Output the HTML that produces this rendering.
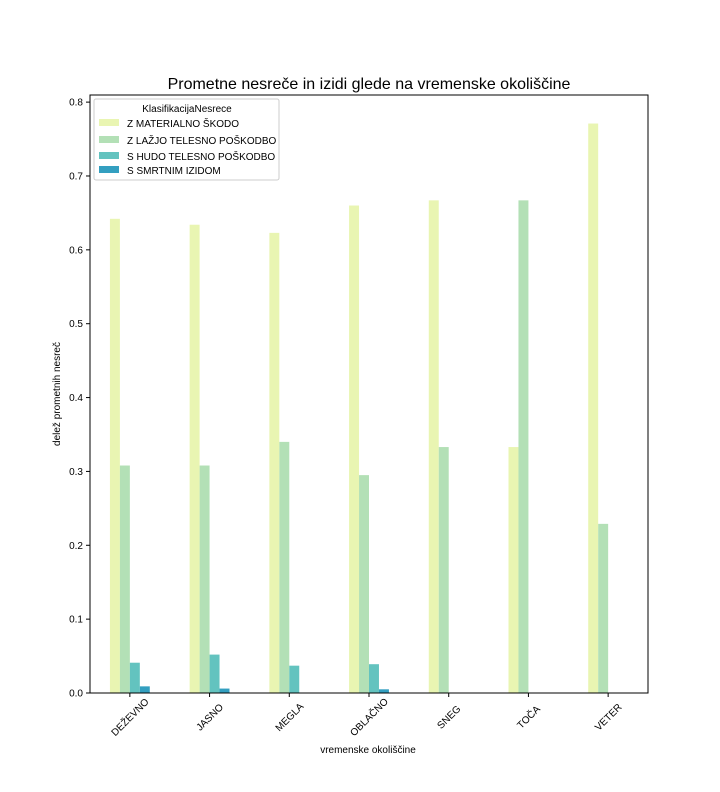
<!DOCTYPE html>
<html><head><meta charset="utf-8"><style>
body{margin:0;background:#fff;}
svg{display:block;font-family:"Liberation Sans","DejaVu Sans",sans-serif;}
</style></head><body>
<svg id="chart" width="720" height="792" xmlns="http://www.w3.org/2000/svg">
<rect width="720" height="792" fill="#fff"/>
<text x="369" y="89" font-size="16" text-anchor="middle">Prometne nesreče in izidi glede na vremenske okoliščine</text>
<g id="bars"></g>
<g id="axes"></g>
<rect x="90" y="95" width="558" height="598" fill="none" stroke="#000" stroke-width="1"/>
<text x="368" y="753" font-size="10" text-anchor="middle">vremenske okoliščine</text>
<text transform="translate(60,394) rotate(-90)" font-size="10" text-anchor="middle">delež prometnih nesreč</text>
<g>
<rect x="94" y="99" width="185" height="81" fill="#fff" stroke="#ccc" rx="2"/>
<text x="187" y="112" font-size="10" text-anchor="middle">KlasifikacijaNesrece</text>
<g><rect x="99" y="119" width="20" height="7" fill="#e9f5b2"/><text x="127" y="127" font-size="10">Z MATERIALNO ŠKODO</text></g>
<g><rect x="99" y="136" width="20" height="7" fill="#b3e0b6"/><text x="127" y="144" font-size="10">Z LAŽJO TELESNO POŠKODBO</text></g>
<g><rect x="99" y="152" width="20" height="7" fill="#63c3bf"/><text x="127" y="160" font-size="10">S HUDO TELESNO POŠKODBO</text></g>
<g><rect x="99" y="166" width="20" height="7" fill="#339fc0"/><text x="127" y="174" font-size="10">S SMRTNIM IZIDOM</text></g>
</g>
</svg>
<script>
const categories=["DEŽEVNO","JASNO","MEGLA","OBLAČNO","SNEG","TOČA","VETER"];
const materialno=[0.642,0.634,0.623,0.660,0.667,0.333,0.771];
const lazja=[0.308,0.308,0.340,0.295,0.333,0.667,0.229];
const huda=[0.041,0.052,0.037,0.039,0,0,0];
const smrt=[0.009,0.006,0,0.005,0,0,0];
const yTicks=[0,0.1,0.2,0.3,0.4,0.5,0.6,0.7,0.8];
const series=[materialno,lazja,huda,smrt];
const colors=["#e9f5b2","#b3e0b6","#63c3bf","#339fc0"];
const names=["materialno","lazja","huda","smrt"];
const X0=90,X1=648,Y0=693,PX=738.6;
const y=v=>Y0-v*PX;
const step=(X1-X0)/categories.length;
const xc=i=>X0+step*(i+0.5);
const bw=step*0.5/4;
const NS="http://www.w3.org/2000/svg";
const bars=document.getElementById('bars'),axes=document.getElementById('axes');
series.forEach((s,k)=>s.forEach((v,i)=>{
 const r=document.createElementNS(NS,'rect');
 r.setAttribute('x',xc(i)-2*bw+k*bw);r.setAttribute('y',y(v));
 r.setAttribute('width',bw);r.setAttribute('height',Math.max(0,Y0-y(v)));
 r.setAttribute('fill',colors[k]);
 
 
 bars.appendChild(r);
}));
yTicks.forEach(t=>{
 const l=document.createElementNS(NS,'line');
 l.setAttribute('x1',X0-4);l.setAttribute('x2',X0);l.setAttribute('y1',y(t));l.setAttribute('y2',y(t));l.setAttribute('stroke','#000');
 
 
 axes.appendChild(l);
 const tx=document.createElementNS(NS,'text');
 tx.setAttribute('x',X0-7);tx.setAttribute('y',y(t)+3.5);tx.setAttribute('font-size','10');tx.setAttribute('text-anchor','end');
 tx.textContent=t.toFixed(1);
 
 
 axes.appendChild(tx);
});
categories.forEach((c,i)=>{
 const l=document.createElementNS(NS,'line');
 l.setAttribute('x1',xc(i));l.setAttribute('x2',xc(i));l.setAttribute('y1',Y0);l.setAttribute('y2',Y0+4);l.setAttribute('stroke','#000');
 
 
 axes.appendChild(l);
 const tx=document.createElementNS(NS,'text');
 tx.setAttribute('transform','translate('+xc(i)+','+(Y0+24)+') rotate(-45)');
 tx.setAttribute('font-size','10');tx.setAttribute('text-anchor','middle');tx.setAttribute('dy','3.5');
 tx.textContent=c;
 
 
 axes.appendChild(tx);
});
</script>
</body></html>
